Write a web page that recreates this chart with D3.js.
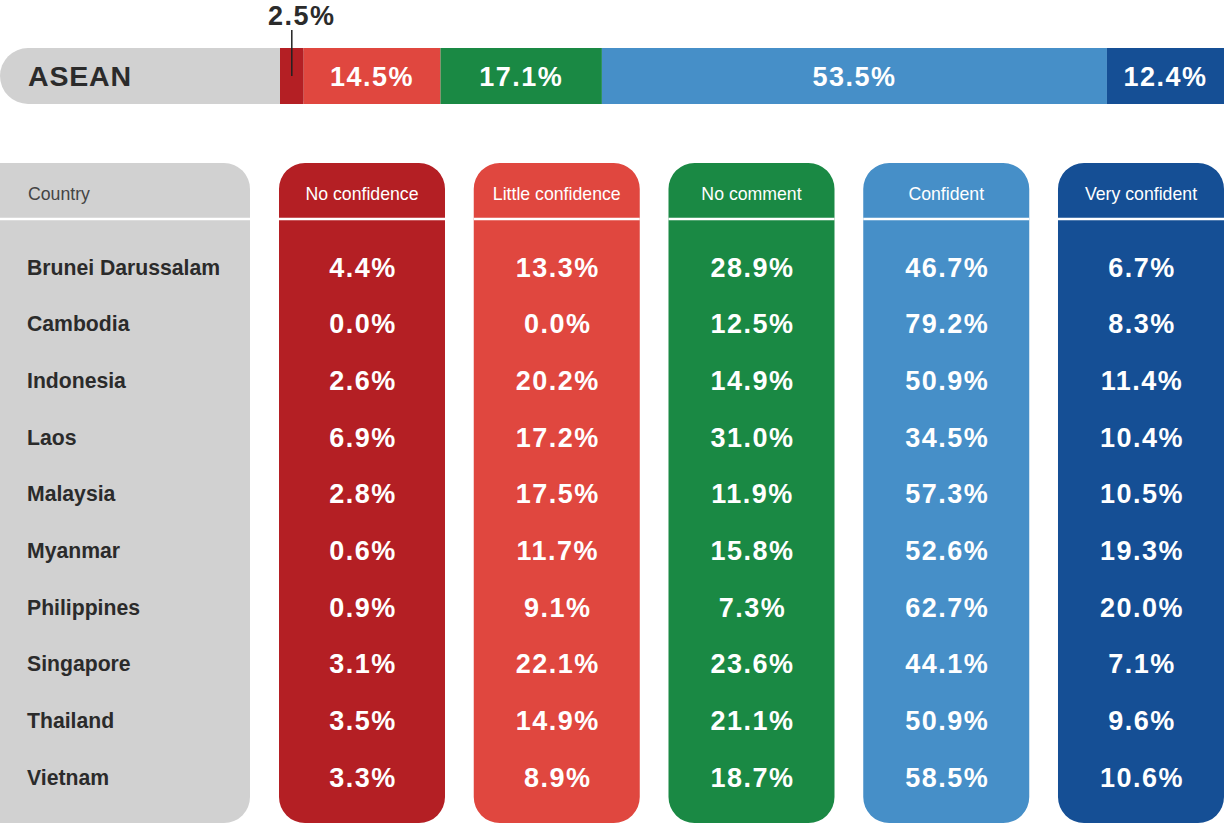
<!DOCTYPE html>
<html>
<head>
<meta charset="utf-8">
<script src="https://cdn.jsdelivr.net/npm/d3@7.9.0/dist/d3.min.js"></script>
<style>
  html, body { margin: 0; padding: 0; background: #fff; }
  svg { display: block; font-family: "Liberation Sans", Arial, Helvetica, sans-serif; }
</style>
</head>
<body>
<svg id="chart" width="1225" height="825"></svg>
<script>
// categories, left to right
const levels = ['No confidence', 'Little confidence', 'No comment', 'Confident', 'Very confident'];
const colors = ['#b41f24', '#e0473f', '#1a8944', '#468fc8', '#154f95'];

// ASEAN-wide shares
const aseanValues = [2.5, 14.5, 17.1, 53.5, 12.4];

const countries = ['Brunei Darussalam', 'Cambodia', 'Indonesia', 'Laos', 'Malaysia',
  'Myanmar', 'Philippines', 'Singapore', 'Thailand', 'Vietnam'];

// one array per column
const noConfidence     = [4.4, 0.0, 2.6, 6.9, 2.8, 0.6, 0.9, 3.1, 3.5, 3.3];
const littleConfidence = [13.3, 0.0, 20.2, 17.2, 17.5, 11.7, 9.1, 22.1, 14.9, 8.9];
const noComment        = [28.9, 12.5, 14.9, 31.0, 11.9, 15.8, 7.3, 23.6, 21.1, 18.7];
const confident        = [46.7, 79.2, 50.9, 34.5, 57.3, 52.6, 62.7, 44.1, 50.9, 58.5];
const veryConfident    = [6.7, 8.3, 11.4, 10.4, 10.5, 19.3, 20.0, 7.1, 9.6, 10.6];

const columns = [noConfidence, littleConfidence, noComment, confident, veryConfident];

const svg = d3.select('#chart');
const fmt = d => d.toFixed(1) + '%';
const grey = '#d1d1d1';
const dark = '#2b2b2b';

// rounded rect path with choice of which corners are rounded
function roundRect(x, y, w, h, r, top, bottom) {
  const p = d3.path();
  const rt = top ? r : 0, rb = bottom ? r : 0;
  p.moveTo(x + rt, y);
  p.lineTo(x + w - rt, y);
  if (rt) p.arcTo(x + w, y, x + w, y + rt, rt);
  p.lineTo(x + w, y + h - rb);
  if (rb) p.arcTo(x + w, y + h, x + w - rb, y + h, rb);
  p.lineTo(x + rb, y + h);
  if (rb) p.arcTo(x, y + h, x, y + h - rb, rb);
  p.lineTo(x, y + rt);
  if (rt) p.arcTo(x, y, x + rt, y, rt);
  p.closePath();
  return p.toString();
}

// ---------- ASEAN stacked bar ----------
const barTop = 48, barH = 56;
const xBar = d3.scaleLinear().domain([0, d3.sum(aseanValues)]).range([280, 1224]);
const stacked = aseanValues.map((v, i) => ({
  v, i, x0: d3.sum(aseanValues.slice(0, i)), x1: d3.sum(aseanValues.slice(0, i + 1))
}));

svg.append('rect')
  .attr('x', 0).attr('y', barTop).attr('width', 320).attr('height', barH)
  .attr('rx', 28).attr('fill', grey);

svg.append('text')
  .attr('x', 28).attr('y', barTop + barH / 2 + 10)
  .attr('font-size', 28.5).attr('font-weight', 'bold').attr('letter-spacing', 0.8)
  .attr('fill', dark).text('ASEAN');

svg.selectAll('rect.seg')
  .data(stacked)
  .join('rect')
  .attr('class', 'seg')
  .attr('x', d => xBar(d.x0)).attr('y', barTop)
  .attr('width', d => xBar(d.x1) - xBar(d.x0)).attr('height', barH)
  .attr('fill', d => colors[d.i]);

// labels inside wide segments, small one gets a callout
svg.selectAll('text.seg')
  .data(stacked.filter(d => d.v >= 5))
  .join('text')
  .attr('class', 'seg')
  .attr('x', d => (xBar(d.x0) + xBar(d.x1)) / 2)
  .attr('y', barTop + barH / 2 + 10)
  .attr('text-anchor', 'middle')
  .attr('font-size', 27).attr('font-weight', 'bold').attr('letter-spacing', 1.5)
  .attr('fill', '#fff')
  .text(d => fmt(d.v));

const small = stacked.filter(d => d.v < 5);
small.forEach(d => {
  const cx = (xBar(d.x0) + xBar(d.x1)) / 2;
  svg.append('line')
    .attr('x1', cx).attr('x2', cx).attr('y1', 30).attr('y2', 76)
    .attr('stroke', '#222').attr('stroke-width', 1.5);
  svg.append('text')
    .attr('x', cx + 10).attr('y', 25)
    .attr('text-anchor', 'middle')
    .attr('font-size', 27).attr('font-weight', 'bold').attr('letter-spacing', 1.5)
    .attr('fill', dark).text(fmt(d.v));
});

// ---------- table ----------
const tableTop = 163, tableBottom = 823, headerLine = 219, r = 26;
const xCol = d3.scaleBand().domain(levels).range([279, 1224]).paddingInner(0.1476);
const yRow = d3.scaleBand().domain(countries).range([238.7, 805.3]);

// country panel
svg.append('path')
  .attr('d', roundRect(-40, tableTop, 290, tableBottom - tableTop, r, true, true))
  .attr('fill', grey);
svg.append('line')
  .attr('x1', 0).attr('x2', 250).attr('y1', headerLine).attr('y2', headerLine)
  .attr('stroke', '#fff').attr('stroke-width', 2.5);
svg.append('text')
  .attr('x', 28).attr('y', 200)
  .attr('font-size', 17.7).attr('fill', '#444').text('Country');

svg.selectAll('text.country')
  .data(countries)
  .join('text')
  .attr('class', 'country')
  .attr('x', 27)
  .attr('y', d => yRow(d) + yRow.bandwidth() / 2)
  .attr('dy', '0.36em')
  .attr('font-size', 21.2).attr('font-weight', 'bold')
  .attr('fill', dark)
  .text(d => d);

// value columns
const cols = svg.selectAll('g.col')
  .data(levels)
  .join('g')
  .attr('class', 'col')
  .attr('transform', d => `translate(${xCol(d)},0)`);

cols.append('path')
  .attr('d', roundRect(0, tableTop, xCol.bandwidth(), tableBottom - tableTop, r, true, true))
  .attr('fill', (d, i) => colors[i]);

cols.append('line')
  .attr('x1', 0).attr('x2', xCol.bandwidth())
  .attr('y1', headerLine).attr('y2', headerLine)
  .attr('stroke', '#fff').attr('stroke-width', 2.5);

cols.append('text')
  .attr('x', xCol.bandwidth() / 2).attr('y', 200)
  .attr('text-anchor', 'middle')
  .attr('font-size', 17.7).attr('fill', '#fff')
  .text(d => d);

cols.each(function(level, i) {
  d3.select(this).selectAll('text.val')
    .data(columns[i])
    .join('text')
    .attr('class', 'val')
    .attr('x', xCol.bandwidth() / 2 + 1)
    .attr('y', (v, j) => yRow(countries[j]) + yRow.bandwidth() / 2)
    .attr('dy', '0.36em')
    .attr('text-anchor', 'middle')
    .attr('font-size', 27).attr('font-weight', 'bold').attr('letter-spacing', 1.5)
    .attr('fill', '#fff')
    .text(v => fmt(v));
});
</script>
</body>
</html>
